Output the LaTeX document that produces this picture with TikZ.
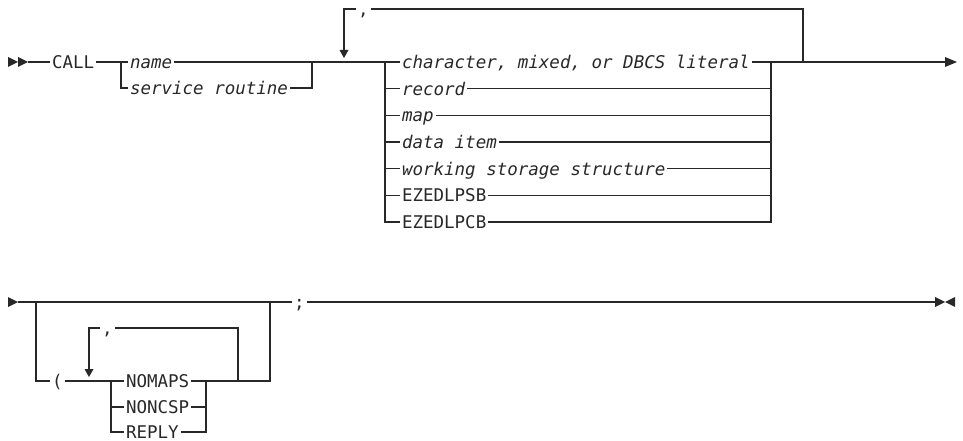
\documentclass[tikz,border=0pt]{standalone}
\usepackage{fontspec}
\usepackage{tikz}
\usetikzlibrary{positioning}
\newfontfamily\synfont{DejaVu Sans Mono}
\definecolor{ln}{RGB}{40,40,40}
\tikzset{
	kw/.style={font=\synfont\fontsize{17.5pt}{17.5pt}\selectfont, text=ln, inner sep=0pt, outer xsep=2pt, text height=13pt, text depth=0pt, anchor=west},
	var/.style={kw, font=\synfont\itshape\fontsize{17.5pt}{17.5pt}\selectfont},
}

\begin{document}
\begin{tikzpicture}[x=1pt, y=-1pt, line width=1.5pt, color=ln]
				
					\useasboundingbox (0,0) rectangle (963,441);
					
					\fill (8,57) -- (18,62) -- (8,67) -- cycle;
					\fill (18,57) -- (28,62) -- (18,67) -- cycle;
					\coordinate (s1) at (28,62);
					\node[kw] (call) at (50,62) {CALL};
					\coordinate (b1l) at (121,62);
					\coordinate (b1r) at (312,62);
					\node[var] (name) at (128,62) {name};
					\node[var] (svc) at (128,88) {service routine};
					
					\draw (s1) -- (call.west);
					\draw (call.east) -- (b1l) -- (name.west);
					\draw (name.east) -- (b1r);
					\draw (b1l) |- (svc.west);
					\draw (svc.east) -| (b1r);
					
					\coordinate (lp1r) at (803,62);
					\coordinate (d1) at (344,50);
					\node[kw] (c1) at (356,9) {,};
					\draw (c1.east) -| (lp1r);
					\draw (c1.west) -| (d1);
					\fill (d1) ++(-4.5,0) -- ++(9,0) -- ++(-4.5,8) -- cycle;
					
					\coordinate (b2l) at (385,62);
					\coordinate (b2r) at (771,62);
					\node[var] (lit) at (400,62) {character, mixed, or DBCS literal};
					\node[var] (rec) at (400,88.7) {record};
					\node[var] (map) at (400,115.3) {map};
					\node[var] (item) at (400,142) {data item};
					\node[var] (wss) at (400,168.7) {working storage structure};
					\node[kw] (psb) at (400,195.3) {EZEDLPSB};
					\node[kw] (pcb) at (400,222) {EZEDLPCB};
					
					\draw (b1r) -- (b2l) -- (lit.west);
					\draw (lit.east) -- (b2r);
					\draw (b2l) |- (rec.west);
					\draw (b2l) |- (map.west);
					\draw (b2l) |- (item.west);
					\draw (b2l) |- (wss.west);
					\draw (b2l) |- (psb.west);
					\draw (b2l) |- (pcb.west);
					\draw (rec.east) -| (b2r);
					\draw (map.east) -| (b2r);
					\draw (item.east) -| (b2r);
					\draw (wss.east) -| (b2r);
					\draw (psb.east) -| (b2r);
					\draw (pcb.east) -| (b2r);
					
					\coordinate (e1) at (946,62);
					\draw (b2r) -- (lp1r) -- (e1);
					\fill (945,57) -- (957,62) -- (945,67) -- cycle;
					
					\fill (8,297) -- (18,302) -- (8,307) -- cycle;
					\coordinate (s2) at (18,302);
					\coordinate (b3l) at (36,302);
					\coordinate (b3r) at (270,302);
					\node[kw] (lpar) at (50,381) {(};
					\node[kw] (semi) at (292,302) {;};
					\draw (s2) -- (b3r) -- (semi.west);
					\draw (b3l) |- (lpar.west);
					
					\coordinate (b4l) at (111,381);
					\coordinate (b4r) at (206,381);
					\coordinate (lp2r) at (238,381);
					\coordinate (d2) at (89,369);
					\node[kw] (c2) at (100,328) {,};
					\node[kw] (nomaps) at (124,381) {NOMAPS};
					\node[kw] (noncsp) at (124,407) {NONCSP};
					\node[kw] (reply) at (124,432) {REPLY};
					
					\draw (lpar.east) -- (b4l) -- (nomaps.west);
					\draw (b4l) |- (noncsp.west);
					\draw (b4l) |- (reply.west);
					\draw (noncsp.east) -| (b4r);
					\draw (reply.east) -| (b4r);
					\draw (nomaps.east) -- (lp2r) -| (b3r);
					\draw (lp2r) |- (c2.east);
					\draw (c2.west) -| (d2);
					\fill (d2) ++(-4.5,0) -- ++(9,0) -- ++(-4.5,8) -- cycle;
					
					\coordinate (e2) at (936,302);
					\draw (semi.east) -- (e2);
					\fill (935,297) -- (945,302) -- (935,307) -- cycle;
					\fill (955,297) -- (945,302) -- (955,307) -- cycle;

				\end{tikzpicture}
\end{document}
